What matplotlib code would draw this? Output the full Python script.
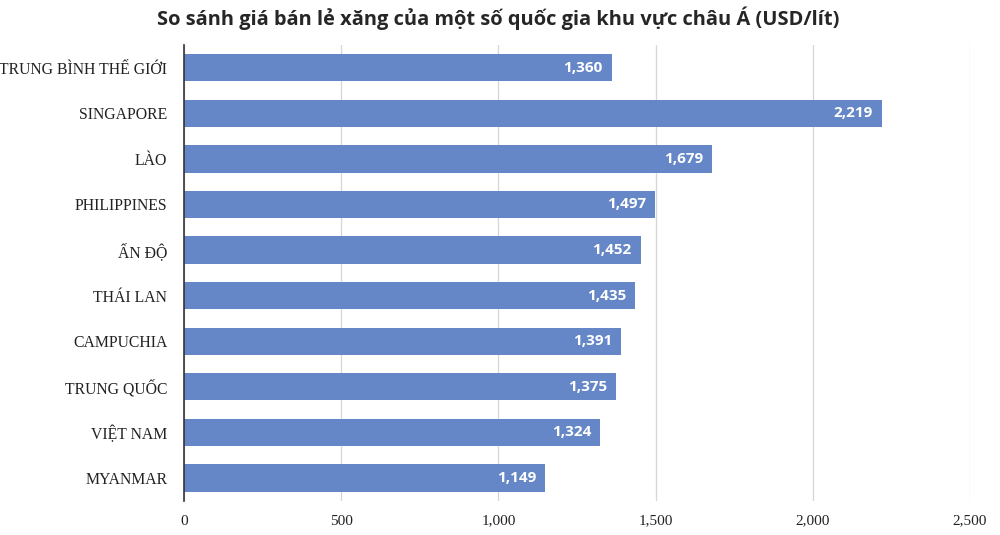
import matplotlib.pyplot as plt

countries = ["TRUNG BÌNH THẾ GIỚI", "SINGAPORE", "LÀO", "PHILIPPINES", "ẤN ĐỘ",
             "THÁI LAN", "CAMPUCHIA", "TRUNG QUỐC", "VIỆT NAM", "MYANMAR"]
prices = [1360, 2219, 1679, 1497, 1452, 1435, 1391, 1375, 1324, 1149]
xticks = [0, 500, 1000, 1500, 2000, 2500]

bar_color = "#6587c7"


def fmt(v):
    return f"{v:,.0f}"


def plot_prices():
    fig = plt.figure(figsize=(10, 5.35), dpi=100)
    ax = fig.add_axes([0.184, 0.064, 0.786, 0.852])

    pos = list(range(len(countries)))
    ax.barh(pos, prices, height=0.6, color=bar_color, zorder=3)
    ax.set_ylim(len(countries) - 0.5, -0.5)
    ax.set_xlim(0, 2500)

    for p, v in zip(pos, prices):
        ax.text(v - 28, p, fmt(v), ha="right", va="center", color="white",
                fontsize=11, fontweight="bold", family="Open Sans", zorder=4)

    ax.set_yticks(pos)
    ax.set_yticklabels(countries, family="Liberation Serif", fontsize=11.3, color="#222222")
    ax.set_xticks(xticks)
    ax.set_xticklabels([fmt(t) for t in xticks], family="Liberation Serif",
                       fontsize=11, color="#222222")
    ax.tick_params(axis="both", length=0)
    ax.tick_params(axis="y", pad=12)
    ax.tick_params(axis="x", pad=10)

    ax.grid(axis="x", color="#d6d6d6", linewidth=0.9, zorder=0)
    for s in ["top", "right", "bottom"]:
        ax.spines[s].set_visible(False)
    ax.spines["left"].set_color("#333333")
    ax.spines["left"].set_linewidth(1.2)
    ax.spines["left"].set_zorder(5)

    fig.text(0.498, 0.965, "So sánh giá bán lẻ xăng của một số quốc gia khu vực châu Á (USD/lít)",
             ha="center", va="center", fontsize=14.4, fontweight="bold",
             family="Open Sans", color="#262626")

    fig.savefig("out.png", dpi=100)
    plt.close(fig)


def main():
    plot_prices()


if __name__ == "__main__":
    main()
